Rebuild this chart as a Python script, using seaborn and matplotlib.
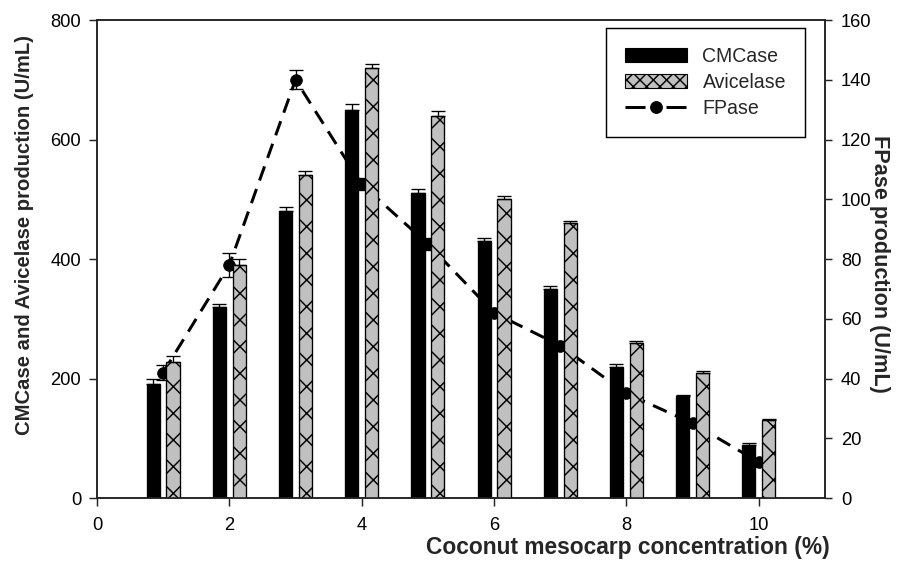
import matplotlib
matplotlib.use("Agg")
import matplotlib.pyplot as plt
import seaborn as sns
import pandas as pd
import numpy as np
from matplotlib.patches import Patch
from matplotlib.lines import Line2D

# ---- data ----
concentration = [1, 2, 3, 4, 5, 6, 7, 8, 9, 10]
cmcase = [190, 320, 480, 650, 510, 430, 350, 220, 170, 88]
cmcase_err = [10, 5, 7, 10, 8, 6, 5, 4, 3, 4]
avicelase = [228, 390, 540, 720, 640, 500, 460, 260, 210, 130]
avicelase_err = [10, 10, 8, 7, 8, 5, 4, 3, 3, 3]
fpase = [42, 78, 140, 105, 85, 62, 51, 35, 25, 12]
fpase_err = [2.5, 4, 3.2, 2, 2, 1.5, 1.5, 1, 1, 1]
x_ticks = [0, 2, 4, 6, 8, 10]
left_ticks = [0, 200, 400, 600, 800]
right_ticks = [0, 20, 40, 60, 80, 100, 120, 140, 160]

sns.set_theme(style="ticks")
plt.rcParams["font.family"] = ["Liberation Sans", "DejaVu Sans"]
plt.rcParams["hatch.linewidth"] = 1.3

DPI = 80
fig = plt.figure(figsize=(902 / DPI, 564 / DPI), dpi=DPI)
ax = fig.add_axes([0.1075, 0.117, 0.9146 - 0.1075, 0.9645 - 0.117])
ax2 = ax.twinx()
ax.set_zorder(2)
ax2.set_zorder(1)
ax.patch.set_visible(False)

df = pd.DataFrame({
    "conc": concentration * 2,
    "value": cmcase + avicelase,
    "enzyme": ["CMCase"] * len(cmcase) + ["Avicelase"] * len(avicelase),
})

sns.barplot(data=df, x="conc", y="value", hue="enzyme", native_scale=True,
            palette={"CMCase": "black", "Avicelase": "#c0c0c0"},
            width=0.6, gap=1 / 3, edgecolor="black", linewidth=1.2,
            errorbar=None, legend=False, ax=ax)

conts = ax.containers
for bar in conts[1]:
    bar.set_hatch("x")

for cont, errs in zip(conts, [cmcase_err, avicelase_err]):
    xs = [b.get_x() + b.get_width() / 2 for b in cont]
    ys = [b.get_height() for b in cont]
    ax.errorbar(xs, ys, yerr=[np.zeros(len(errs)), errs], fmt="none",
                ecolor="black", elinewidth=1.2, capsize=6.3, capthick=1.2,
                zorder=3)

# FPase line on the right axis (drawn behind bars)
sns.lineplot(x=concentration, y=fpase, ax=ax2, color="black", marker="o",
             markersize=10.5, linewidth=2.7, linestyle=(0, (5, 3)),
             markeredgecolor="black")
ax2.errorbar(concentration, fpase, yerr=fpase_err, fmt="none", ecolor="black",
             elinewidth=1.2, capsize=6.3, capthick=1.2)

ax.set_xlim(0, 11)
ax.set_ylim(0, 800)
ax2.set_ylim(0, 160)
ax.set_xticks(x_ticks)
ax.set_xticklabels([str(t) for t in x_ticks])
ax.set_yticks(left_ticks)
ax2.set_yticks(right_ticks)

for a in (ax, ax2):
    for s in a.spines.values():
        s.set_color("#222222")
        s.set_linewidth(1.4)
        s.set_visible(True)
    a.tick_params(length=7.2, width=1.3, color="#222222", labelsize=16.5,
                  labelcolor="black")
ax.tick_params(axis="x", pad=10)
ax.tick_params(axis="y", pad=7)
ax2.tick_params(axis="y", pad=8, length=6.5)

ax.set_xlabel("Coconut mesocarp concentration (%)", fontsize=20.5,
              fontweight="bold")
ax.xaxis.label.set_horizontalalignment("right")
ax.xaxis.set_label_coords(1.007, -0.079)

ax.set_ylabel("CMCase and Avicelase production (U/mL)", fontsize=18.2,
              fontweight="bold")
ax.yaxis.set_label_coords(-0.087, 0.55)

ax2.set_ylabel("FPase production (U/mL)", fontsize=19.5, fontweight="bold",
               rotation=270, va="center")
ax2.yaxis.set_label_coords(1.075, 0.49)

handles = [
    Patch(facecolor="black", edgecolor="black", label="CMCase"),
    Patch(facecolor="#c0c0c0", edgecolor="black", hatch="xx", label="Avicelase"),
    Line2D([0], [0], color="black", linestyle=(0, (6.67, 7)), linewidth=2.7,
           marker="o", markersize=10.5, label="FPase"),
]
leg = ax.legend(handles=handles, loc="upper right",
                bbox_to_anchor=(0.9725, 0.983), fontsize=17.6, frameon=True,
                fancybox=False, framealpha=1, edgecolor="black",
                handlelength=3.15, handleheight=0.75, handletextpad=0.8,
                labelspacing=0.36, borderpad=0.97, borderaxespad=0)
leg.get_frame().set_linewidth(1.3)

fig.savefig("out.png", dpi=DPI)
